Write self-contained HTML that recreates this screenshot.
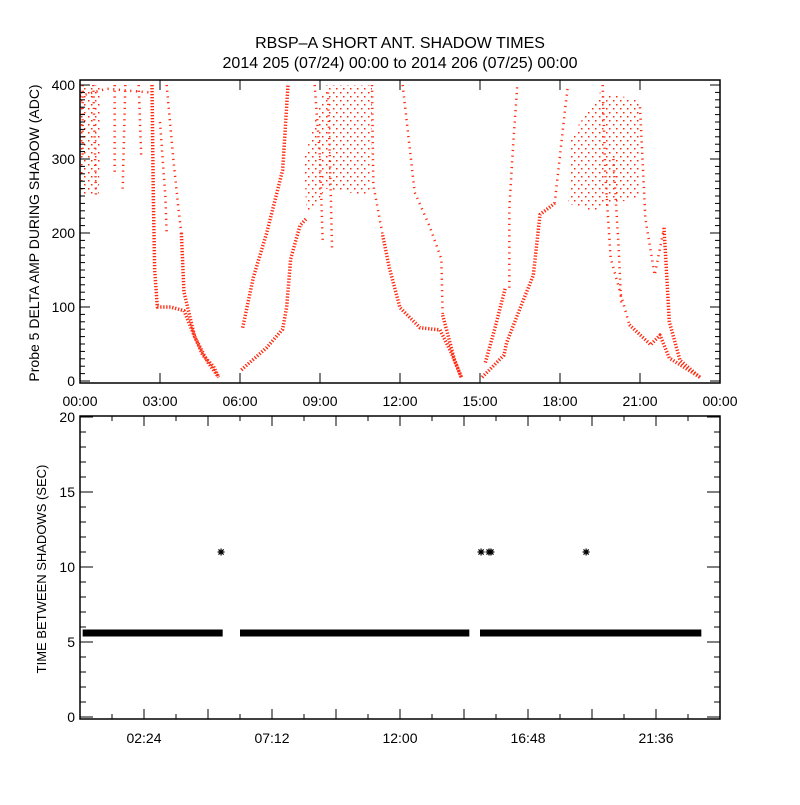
<!DOCTYPE html>
<html><head><meta charset="utf-8"><style>
body{margin:0;background:#fff}
svg text{font-family:"Liberation Sans",sans-serif;fill:#000}
</style></head><body>
<svg id="c" width="800" height="800" viewBox="0 0 800 800" xmlns="http://www.w3.org/2000/svg">
<defs><pattern id="dots" width="7" height="8" patternUnits="userSpaceOnUse"><rect x="0" y="0" width="1.5" height="1.5" fill="#ff2a10"/><rect x="4" y="4" width="1.5" height="1.5" fill="#ff2a10"/></pattern></defs>
<text x="400" y="48" font-size="16" text-anchor="middle">RBSP–A SHORT ANT. SHADOW TIMES</text>
<text x="400" y="68" font-size="16" text-anchor="middle">2014 205 (07/24) 00:00 to 2014 206 (07/25) 00:00</text>
<g id="topPanel"></g>
<g id="botPanel"></g>
<text transform="translate(39,233) rotate(-90)" font-size="14" text-anchor="middle">Probe 5 DELTA AMP DURING SHADOW (ADC)</text>
<text transform="translate(46,569) rotate(-90)" font-size="13" text-anchor="middle">TIME BETWEEN SHADOWS (SEC)</text>
</svg>
<script>
// ---- top panel data (hour, ADC) ----
const denseTracks = [
 [[2.7,400],[2.75,250],[2.8,150],[2.9,100],[3.4,100],[3.9,95],[4.3,60],[4.8,25],[5.2,5]],
 [[3.8,200],[3.9,120],[4.1,90],[4.3,60],[4.6,35],[5.0,20],[5.2,5]],
 [[6.05,15],[7.0,45],[7.6,70],[7.75,100],[7.9,165],[8.25,210],[8.5,220]],
 [[6.1,72],[6.5,140],[7.0,200],[7.6,285],[7.8,400]],
 [[11.35,197],[11.6,153],[12.0,99],[12.75,72],[13.5,69],[13.9,40],[14.3,5]],
 [[13.6,89],[14.05,28],[14.3,5]],
 [[15.08,5],[15.9,35],[16.0,52],[16.5,98],[17.0,143],[17.25,225],[17.8,240]],
 [[15.2,25],[15.55,70],[15.95,126]],
 [[20.6,76],[21.4,49],[21.75,62],[22.1,31],[23.25,5]],
 [[21.9,207],[22.1,80],[22.5,28],[23.25,5]]
];
const sparseTracks = [
 [[0.1,400],[0.1,300]],[[0.5,400],[0.6,250]],[[1.3,400],[1.3,280]],[[1.7,400],[1.6,260]],[[2.2,400],[2.3,300]],
 [[0,385],[1.0,395],[2.6,390]],
 [[3.25,400],[3.5,300],[3.7,230],[3.8,200]],[[3.0,350],[3.2,250],[3.25,200]],
 [[8.8,400],[9.0,300],[9.1,190]],[[9.3,390],[9.4,260],[9.45,180]],
 [[10.95,400],[11.0,265],[11.35,197]],
 [[12.1,400],[12.55,255],[13.1,210],[13.55,165],[13.6,89]],
 [[16.1,126],[16.1,233],[16.25,323],[16.4,400]],
 [[17.8,240],[18.2,370],[18.3,400]],
 [[19.6,400],[19.7,278],[19.9,166],[20.6,76]],
 [[21.0,370],[21.2,220],[21.55,143],[21.9,207]],
 [[20.0,300],[20.2,180],[20.3,100]]
];
const clusters = [
 [[8.5,220],[9.2,260],[10.9,250],[10.95,400],[9.2,400],[8.4,300]],
 [[18.3,240],[19.2,230],[21.0,250],[21.0,380],[19.5,390],[18.4,330]],
 [[0,250],[0.7,250],[0.8,400],[0,400]]
];
// ---- bottom panel data ----
const bandSegments = [[0.1,5.35],[6.0,14.6],[15.0,23.3]];
const bandValue = 5.6;
const outlierHours = [5.29,15.04,15.34,15.41,18.98];
const outlierValues = [11,11,11,11,11];
const topXTickLabels = ["00:00","03:00","06:00","09:00","12:00","15:00","18:00","21:00","00:00"];
const topYTicks = [0,100,200,300,400];
const botXTickLabels = ["02:24","07:12","12:00","16:48","21:36"];
const botYTicks = [0,5,10,15,20];

const NS="http://www.w3.org/2000/svg";
function mk(p,t,a){const e=document.createElementNS(NS,t);for(const k in a)e.setAttribute(k,a[k]);p.appendChild(e);return e;}
const X=h=>80+h*640/24;
const Yt=v=>381-v*0.74;
const Yb=v=>717-v*15;
const topG=document.getElementById('topPanel'), botG=document.getElementById('botPanel');

clusters.forEach(c=>{const e=mk(topG,'polygon',{points:c.map(p=>X(p[0])+','+Yt(p[1])).join(' '),fill:'url(#dots)',stroke:'none'});

});
sparseTracks.forEach(t=>{const e=mk(topG,'polyline',{points:t.map(p=>X(p[0])+','+Yt(p[1])).join(' '),fill:'none',stroke:'#ff2a10','stroke-width':2.5,'stroke-dasharray':'1.2 4.5'});

});
denseTracks.forEach(t=>{const e=mk(topG,'polyline',{points:t.map(p=>X(p[0])+','+Yt(p[1])).join(' '),fill:'none',stroke:'#ff2a10','stroke-width':3.5,'stroke-dasharray':'1.3 1.7','stroke-linejoin':'round'});

});

const tf=mk(topG,'rect',{x:80,y:80,width:640,height:303,fill:'none',stroke:'#000','stroke-width':1.5});


topXTickLabels.forEach((l,i)=>{const x=X(i*3);
 mk(topG,'line',{x1:x,x2:x,y1:383,y2:373,stroke:'#000'});mk(topG,'line',{x1:x,x2:x,y1:80,y2:90,stroke:'#000'});
 const t=mk(topG,'text',{x:x,y:406,'font-size':14,'text-anchor':'middle'});t.textContent=l;
 
 });
for(let v=0;v<=400;v+=10){const y=Yt(v),L=v%100==0?10:5;
 mk(topG,'line',{x1:80,x2:80+L,y1:y,y2:y,stroke:'#000'});mk(topG,'line',{x1:720,x2:720-L,y1:y,y2:y,stroke:'#000'});}
topYTicks.forEach(v=>{const t=mk(topG,'text',{x:75,y:Yt(v)+5,'font-size':14,'text-anchor':'end'});t.textContent=v;
 
 });

bandSegments.forEach(s=>{const e=mk(botG,'rect',{x:X(s[0]),y:Yb(bandValue)-3.5,width:X(s[1])-X(s[0]),height:7,fill:'#000'});

});
outlierHours.forEach((h,i)=>{const cx=X(h),cy=Yb(outlierValues[i]);
 const g=mk(botG,'path',{d:`M${cx-3.5} ${cy}h7M${cx} ${cy-3.5}v7M${cx-2.6} ${cy-2.6}l5.2 5.2M${cx-2.6} ${cy+2.6}l5.2 -5.2`,stroke:'#000','stroke-width':1.2});
 
 });
const bf=mk(botG,'rect',{x:80,y:416,width:640,height:303,fill:'none',stroke:'#000','stroke-width':1.5});


for(let i=0;i<=20;i++){const x=X(i*1.2),L=i%2==0?10:5;
 mk(botG,'line',{x1:x,x2:x,y1:719,y2:719-L,stroke:'#000'});mk(botG,'line',{x1:x,x2:x,y1:416,y2:416+L,stroke:'#000'});}
botXTickLabels.forEach((l,i)=>{const t=mk(botG,'text',{x:X(2.4+i*4.8),y:743,'font-size':14,'text-anchor':'middle'});t.textContent=l;
 
 });
for(let v=0;v<=20;v++){const y=Yb(v),L=v%5==0?13:6;
 mk(botG,'line',{x1:80,x2:80+L,y1:y,y2:y,stroke:'#000'});mk(botG,'line',{x1:720,x2:720-L,y1:y,y2:y,stroke:'#000'});}
botYTicks.forEach(v=>{const t=mk(botG,'text',{x:75,y:Yb(v)+5,'font-size':14,'text-anchor':'end'});t.textContent=v;
 
 });
</script>
</body></html>
